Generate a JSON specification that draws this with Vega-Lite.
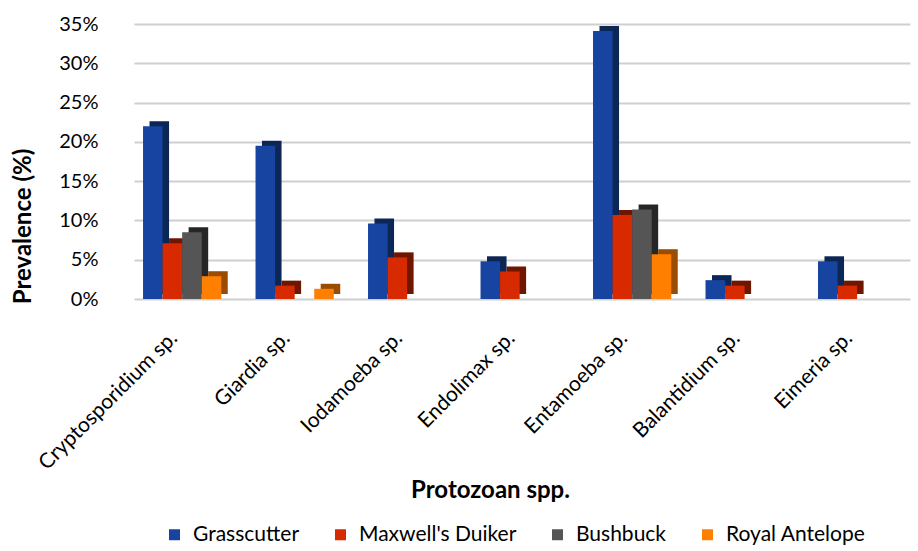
{
  "$schema": "https://vega.github.io/schema/vega-lite/v6.json",
  "autosize": {"type": "none"},
  "padding": {"left": 134, "top": 24, "right": 8, "bottom": 252},
  "width": 776,
  "height": 275,
  "background": "white",
  "config": {
    "font": "Lato",
    "view": {"stroke": null}
  },
  "data": {
    "values": [
      {"species": "Cryptosporidium sp.", "host": "Grasscutter", "prevalence": 22.0},
      {"species": "Cryptosporidium sp.", "host": "Maxwell's Duiker", "prevalence": 7.1},
      {"species": "Cryptosporidium sp.", "host": "Bushbuck", "prevalence": 8.5},
      {"species": "Cryptosporidium sp.", "host": "Royal Antelope", "prevalence": 2.9},
      {"species": "Giardia sp.", "host": "Grasscutter", "prevalence": 19.5},
      {"species": "Giardia sp.", "host": "Maxwell's Duiker", "prevalence": 1.7},
      {"species": "Giardia sp.", "host": "Bushbuck", "prevalence": 0},
      {"species": "Giardia sp.", "host": "Royal Antelope", "prevalence": 1.3},
      {"species": "Iodamoeba sp.", "host": "Grasscutter", "prevalence": 9.6},
      {"species": "Iodamoeba sp.", "host": "Maxwell's Duiker", "prevalence": 5.3},
      {"species": "Iodamoeba sp.", "host": "Bushbuck", "prevalence": 0},
      {"species": "Iodamoeba sp.", "host": "Royal Antelope", "prevalence": 0},
      {"species": "Endolimax sp.", "host": "Grasscutter", "prevalence": 4.8},
      {"species": "Endolimax sp.", "host": "Maxwell's Duiker", "prevalence": 3.5},
      {"species": "Endolimax sp.", "host": "Bushbuck", "prevalence": 0},
      {"species": "Endolimax sp.", "host": "Royal Antelope", "prevalence": 0},
      {"species": "Entamoeba sp.", "host": "Grasscutter", "prevalence": 34.1},
      {"species": "Entamoeba sp.", "host": "Maxwell's Duiker", "prevalence": 10.7},
      {"species": "Entamoeba sp.", "host": "Bushbuck", "prevalence": 11.4},
      {"species": "Entamoeba sp.", "host": "Royal Antelope", "prevalence": 5.7},
      {"species": "Balantidium sp.", "host": "Grasscutter", "prevalence": 2.4},
      {"species": "Balantidium sp.", "host": "Maxwell's Duiker", "prevalence": 1.7},
      {"species": "Balantidium sp.", "host": "Bushbuck", "prevalence": 0},
      {"species": "Balantidium sp.", "host": "Royal Antelope", "prevalence": 0},
      {"species": "Eimeria sp.", "host": "Grasscutter", "prevalence": 4.8},
      {"species": "Eimeria sp.", "host": "Maxwell's Duiker", "prevalence": 1.7},
      {"species": "Eimeria sp.", "host": "Bushbuck", "prevalence": 0},
      {"species": "Eimeria sp.", "host": "Royal Antelope", "prevalence": 0}
    ]
  },
  "encoding": {
    "x": {
      "field": "species",
      "type": "nominal",
      "sort": null,
      "scale": {"paddingInner": 0.2, "paddingOuter": 0.049},
      "axis": {
        "title": "Protozoan spp.",
        "titleFontSize": 24,
        "titleFontWeight": "bold",
        "titleColor": "#000000",
        "titleY": 191,
        "titleX": 356,
        "titleAlign": "center",
        "titleBaseline": "middle",
        "labelAngle": -45,
        "labelFontSize": 21,
        "labelColor": "#000000",
        "labelLimit": 400,
        "labelPadding": 28,
        "labelOffset": -18,
        "ticks": false,
        "domain": false
      }
    },
    "y": {
      "field": "prevalence",
      "type": "quantitative",
      "scale": {"domain": [0, 35], "nice": false},
      "axis": {
        "title": "Prevalence (%)",
        "titleFontSize": 24,
        "titleFontWeight": "bold",
        "titleColor": "#000000",
        "titleAngle": -90,
        "titleX": -111,
        "titleY": 202,
        "titleBaseline": "middle",
        "titleAlign": "center",
        "values": [0, 5, 10, 15, 20, 25, 30, 35],
        "labelExpr": "datum.value + '%'",
        "labelFontSize": 20,
        "labelColor": "#000000",
        "labelPadding": 36,
        "ticks": false,
        "domain": false,
        "grid": true,
        "gridColor": "#cfcfcf",
        "gridWidth": 2
      }
    }
  },
  "layer": [
    {
      "mark": {"type": "bar", "yOffset": -5},
      "encoding": {
        "xOffset": {
          "field": "host",
          "type": "nominal",
          "sort": ["Grasscutter", "Maxwell's Duiker", "Bushbuck", "Royal Antelope"],
          "scale": {"paddingInner": 0, "paddingOuter": 0.3, "align": 0.85}
        },
        "color": {
          "field": "host",
          "type": "nominal",
          "sort": ["Grasscutter", "Maxwell's Duiker", "Bushbuck", "Royal Antelope"],
          "scale": {"range": ["#0c2656", "#6e1600", "#262626", "#9a4c00"]},
          "legend": null
        }
      }
    },
    {
      "mark": {"type": "bar"},
      "encoding": {
        "xOffset": {
          "field": "host",
          "type": "nominal",
          "sort": ["Grasscutter", "Maxwell's Duiker", "Bushbuck", "Royal Antelope"],
          "scale": {"paddingInner": 0, "paddingOuter": 0.3, "align": 0.3}
        },
        "color": {
          "field": "host",
          "type": "nominal",
          "sort": ["Grasscutter", "Maxwell's Duiker", "Bushbuck", "Royal Antelope"],
          "scale": {"range": ["#1744a0", "#d82a00", "#555555", "#ff8000"]},
          "legend": {
            "title": null,
            "orient": "none",
            "direction": "horizontal",
            "legendX": 30,
            "legendY": 500,
            "symbolType": "square",
            "symbolSize": 121,
            "symbolStrokeWidth": 0,
            "labelFontSize": 21,
            "labelColor": "#000000",
            "labelOffset": 8,
            "columnPadding": 30
          }
        }
      }
    }
  ],
  "resolve": {"scale": {"color": "independent", "xOffset": "independent"}}
}
